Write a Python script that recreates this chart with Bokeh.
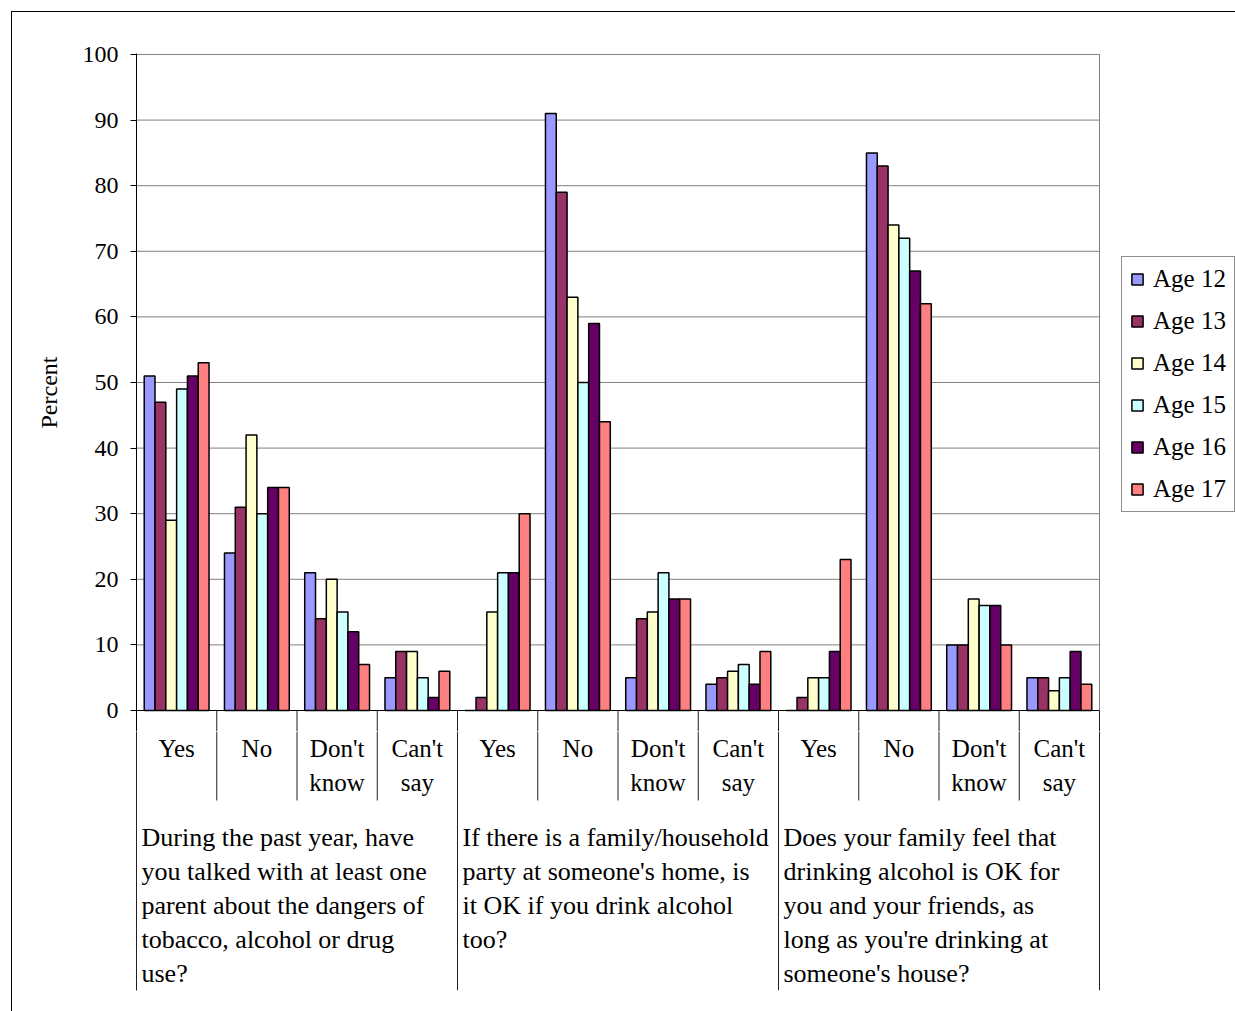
from bokeh.plotting import figure
from bokeh.layouts import column
from bokeh.models import Range1d, FixedTicker, Legend, LegendItem
from bokeh.core.properties import value
from bokeh.embed import file_html
from bokeh.resources import INLINE

# ---------------- data ----------------
questions = [
    "During the past year, have\nyou talked with at least one\nparent about the dangers of\ntobacco, alcohol or drug\nuse?",
    "If there is a family/household\nparty at someone's home, is\nit OK if you drink alcohol\ntoo?",
    "Does your family feel that\ndrinking alcohol is OK for\nyou and your friends, as\nlong as you're drinking at\nsomeone's house?",
]
answers = ["Yes", "No", "Don't\nknow", "Can't\nsay"]
ages = ["Age 12", "Age 13", "Age 14", "Age 15", "Age 16", "Age 17"]

age12 = [51, 24, 21, 5, 0, 91, 5, 4, 0, 85, 10, 5]
age13 = [47, 31, 14, 9, 2, 79, 14, 5, 2, 83, 10, 5]
age14 = [29, 42, 20, 9, 15, 63, 15, 6, 5, 74, 17, 3]
age15 = [49, 30, 15, 5, 21, 50, 21, 7, 5, 72, 16, 5]
age16 = [51, 34, 12, 2, 21, 59, 17, 4, 9, 67, 16, 9]
age17 = [53, 34, 7, 6, 30, 44, 17, 9, 23, 62, 10, 4]
series = [age12, age13, age14, age15, age16, age17]

y_ticks = [0, 10, 20, 30, 40, 50, 60, 70, 80, 90, 100]
y_label = "Percent"

colors = ["#9999FF", "#993366", "#FFFFCC", "#CCFFFF", "#660066", "#FF8080"]

# ---------------- layout constants ----------------
FONT = "Liberation Serif"
CAT_PX = 963 / 12.0   # pixels per category
BW = 0.1346           # bar width in category units
ncat = len(answers) * len(questions)
W = 1223
LEFT = 124
X_END = (W - LEFT) / CAT_PX
SEP = "#202020"
xr = Range1d(0, X_END)

# ---------------- top figure: bars ----------------
p = figure(width=W, height=719, output_backend="svg", toolbar_location=None,
           x_range=xr, y_range=Range1d(-3.2, 100.15),
           x_axis_location=None,
           min_border_left=LEFT, min_border_right=0,
           min_border_top=41, min_border_bottom=0)
p.outline_line_color = None
p.background_fill_color = "white"
p.border_fill_color = "white"
p.grid.visible = False

ax = p.yaxis[0]
ax.ticker = FixedTicker(ticks=y_ticks)
ax.major_tick_in = 0
ax.major_tick_out = 6
ax.minor_tick_out = 0
ax.minor_tick_in = 0
ax.axis_line_color = "black"
ax.major_tick_line_color = "black"
ax.major_label_text_font = FONT
ax.major_label_text_font_size = "24px"
ax.major_label_text_color = "black"
ax.major_label_standoff = 12
ax.axis_label = y_label
ax.axis_label_text_font = FONT
ax.axis_label_text_font_size = "24px"
ax.axis_label_text_font_style = "normal"
ax.axis_label_text_color = "black"
ax.axis_label_standoff = 18

# horizontal gridlines and gray right border of the plot area
nt = len(y_ticks)
p.segment(x0=[0] * nt, y0=y_ticks, x1=[ncat] * nt, y1=y_ticks, line_color="#808080", line_width=1)
p.segment(x0=[ncat], y0=[0], x1=[ncat], y1=[100], line_color="#808080", line_width=1)

renderers = []
for j, vals in enumerate(series):
    xs = [i + 0.5 + (j - 2.5) * BW for i in range(ncat)]
    r = p.vbar(x=xs, top=vals, bottom=0, width=BW, fill_color=colors[j],
               line_color="black", line_width=1.5)
    renderers.append(r)

# category axis line and the start of the separators below it
p.segment(x0=[0], y0=[0], x1=[ncat], y1=[0], line_color="black", line_width=1)
bx = list(range(1, ncat + 1))
p.segment(x0=bx, y0=[0] * len(bx), x1=bx, y1=[-3.2] * len(bx), line_color=SEP, line_width=1)

legend = Legend(items=[LegendItem(label=ages[j], renderers=[renderers[j]]) for j in range(len(ages))],
                location=(985, 219), orientation="vertical",
                border_line_color="#202020", border_line_width=1,
                background_fill_color="white", background_fill_alpha=1,
                padding=8, spacing=14, margin=0,
                glyph_width=14, glyph_height=14, label_height=28, label_standoff=9,
                label_text_font=FONT, label_text_font_size="25px", label_text_color="black")
p.add_layout(legend)

# ---------------- bottom figure: category / question labels ----------------
q = figure(width=W, height=280, output_backend="svg", toolbar_location=None,
           x_range=xr, y_range=Range1d(-280, -21),
           x_axis_location=None,
           min_border_left=LEFT, min_border_right=0,
           min_border_top=0, min_border_bottom=21)
q.outline_line_color = None
q.grid.visible = False
q.background_fill_color = "white"
q.border_fill_color = "white"
la = q.yaxis[0]
la.ticker = FixedTicker(ticks=[])
la.axis_line_color = SEP
la.major_tick_out = 0
la.major_tick_in = 0
la.minor_tick_out = 0
la.minor_tick_in = 0
la.major_label_text_font_size = "0px"
la.major_label_standoff = 0

minor_x = [i for i in range(1, ncat) if i % len(answers) != 0]
major_x = [i for i in range(1, ncat + 1) if i % len(answers) == 0]
q.segment(x0=minor_x, y0=[-21] * len(minor_x), x1=minor_x, y1=[-90] * len(minor_x),
          line_color=SEP, line_width=1)
q.segment(x0=major_x, y0=[-21] * len(major_x), x1=major_x, y1=[-280] * len(major_x),
          line_color=SEP, line_width=1)

cx, cy, ct = [], [], []
for i in range(ncat):
    for k, line in enumerate(answers[i % len(answers)].split("\n")):
        cx.append(i + 0.5)
        cy.append(-(38 + 34 * k))
        ct.append(line)
q.text(x=cx, y=cy, text=ct, text_align="center", text_baseline="alphabetic",
       text_font=value(FONT), text_font_size=value("25px"), text_color="black")

qx, qy, qt = [], [], []
for g, qs in enumerate(questions):
    for k, line in enumerate(qs.split("\n")):
        qx.append(g * len(answers) + 5 / CAT_PX)
        qy.append(-(127 + 34 * k))
        qt.append(line)
q.text(x=qx, y=qy, text=qt, text_align="left", text_baseline="alphabetic",
       text_font=value(FONT), text_font_size=value("26px"), text_color="black")

layout = column(p, q, spacing=0)
layout.styles = {"margin-left": "11px", "margin-top": "11px",
                 "border-left": "1px solid black", "border-top": "1px solid black"}

open("out.html", "w").write(file_html(layout, INLINE))
